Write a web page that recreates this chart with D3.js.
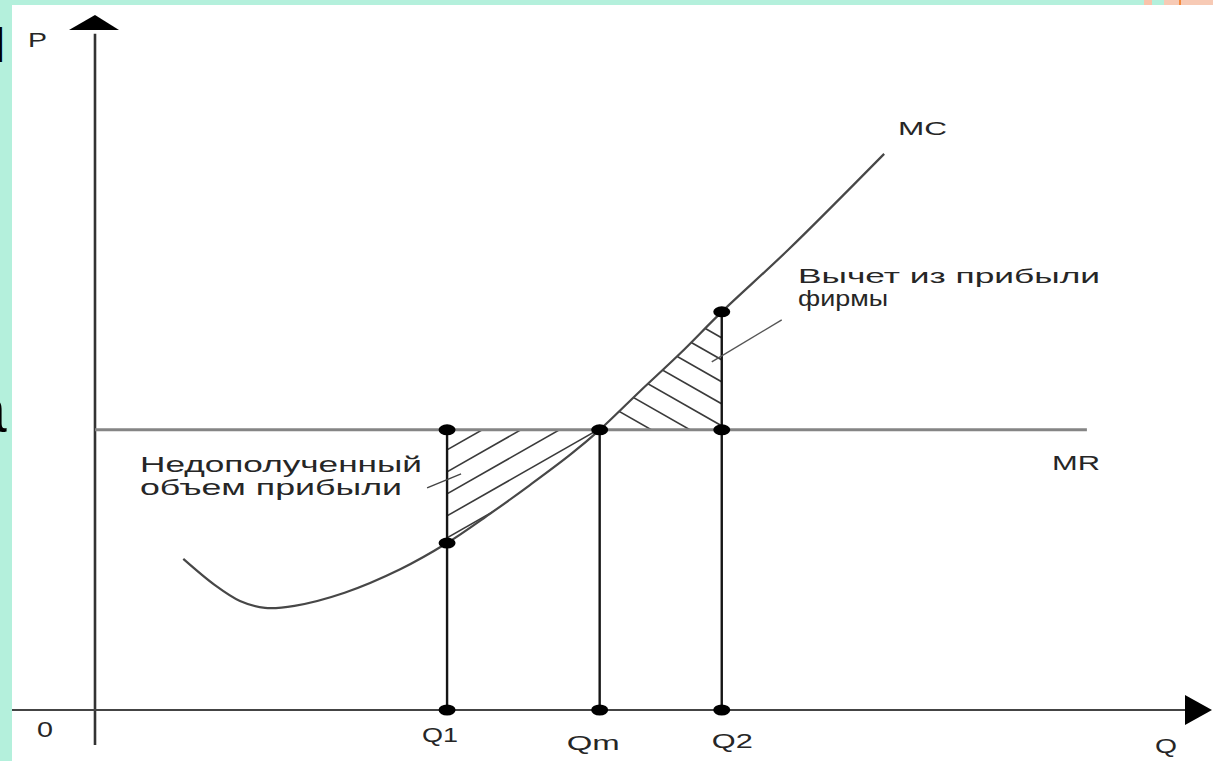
<!DOCTYPE html>
<html><head><meta charset="utf-8">
<script src="https://cdn.jsdelivr.net/npm/d3@7/dist/d3.min.js"></script>
<style>html,body{margin:0;padding:0;background:#b4f0dc;overflow:hidden}svg{display:block}</style>
</head><body><svg id="c" width="1213" height="761"></svg>
<script>
// ---- data ----
const mcQ = [8.1, 11.0, 13.3, 15.6, 18.3, 22.9, 28.0, 32.3, 36.2, 39.9, 43.6, 46.3, 50.0, 53.7, 57.5, 63.6, 72.4];
const mcP = [21.9, 18.1, 15.8, 14.8, 15.1, 17.0, 20.4, 24.2, 28.4, 32.6, 37.0, 40.6, 46.2, 51.7, 57.7, 66.7, 80.6];
const mrLevel = 40.6;
const mrEndQ = 91.0;
const markLabels = ["Q1", "Qm", "Q2"];
const markQ = [32.3, 46.3, 57.5];
const axisLabels = ["P", "0", "Q"];
const curveLabels = ["MC", "MR"];
const noteLoss = ["Недополученный", "объем прибыли"];
const noteDeduct = ["Вычет из прибыли", "фирмы"];

// ---- drawing ----
const svg = d3.select("#c");
const W = 1213, H = 761;
const x = d3.scaleLinear().domain([0, 100]).range([95, 1185]);
const y = d3.scaleLinear().domain([0, 100]).range([710, 20]);
const font = "'Liberation Sans', Arial, sans-serif";
const ink = "#262626";

// page frame (slide background)
svg.append("rect").attr("x", 0).attr("y", 0).attr("width", W).attr("height", H).attr("fill", "#b4f0dc");
svg.append("rect").attr("x", 12).attr("y", 5).attr("width", W - 12).attr("height", H - 5).attr("fill", "#ffffff");
svg.append("rect").attr("x", 1144).attr("y", 0).attr("width", 8).attr("height", 5).attr("fill", "#f9c3ab");
svg.append("rect").attr("x", 1164).attr("y", 0).attr("width", 49).attr("height", 5).attr("fill", "#f7cab5");
svg.append("rect").attr("x", 1179).attr("y", 0).attr("width", 2).attr("height", 5).attr("fill", "#f58a3c");
// clipped slide text fragments at left edge
const frag = svg.append("g").attr("font-family", font).attr("fill", "#000");
frag.append("text").attr("x", -5.5).attr("y", 62).attr("font-size", 48).text("l");
frag.append("text").attr("x", -29).attr("y", 432).attr("font-size", 64).text("a");

const mc = mcQ.map((q, i) => ({q, p: mcP[i]}));
const mcAt = q => mc.reduce((a, b) => Math.abs(b.q - q) < Math.abs(a.q - q) ? b : a).p;
const curve = d3.curveCatmullRom.alpha(0.5);
const line = d3.line().x(d => x(d.q)).y(d => y(d.p)).curve(curve);

const q1 = markQ[0], qm = markQ[1], q2 = markQ[2];

// clip regions for hatching
const defs = svg.append("defs");
const area = d3.area().x(d => x(d.q)).y0(y(mrLevel)).y1(d => y(d.p)).curve(curve);
defs.append("clipPath").attr("id", "clipL").append("path")
  .attr("d", area(mc.filter(d => d.q >= q1 && d.q <= qm)));
defs.append("clipPath").attr("id", "clipR").append("path")
  .attr("d", area(mc.filter(d => d.q >= qm && d.q <= q2)));

const hatchStroke = "#3a3a3a";
const slope = 0.57;
// left hatch: rising to the right
const gL = svg.append("g").attr("clip-path", "url(#clipL)");
const xa = x(q1) - 10, xb = x(qm) + 10;
d3.range(y(mrLevel) + 20, y(mrLevel) + 260, 22).forEach(c => {
  gL.append("line").attr("x1", xa).attr("y1", c + slope * (x(q1) - xa))
    .attr("x2", xb).attr("y2", c - slope * (xb - x(q1)))
    .attr("stroke", hatchStroke).attr("stroke-width", 1.6);
});
// right hatch: falling to the right
const gR = svg.append("g").attr("clip-path", "url(#clipR)");
const xc = x(qm) - 10, xd = x(q2) + 10;
d3.range(y(mcAt(q2)) + 26, y(mrLevel) + 60, 22).forEach(c => {
  gR.append("line").attr("x1", xc).attr("y1", c - slope * (x(q2) - xc))
    .attr("x2", xd).attr("y2", c + slope * (xd - x(q2)))
    .attr("stroke", hatchStroke).attr("stroke-width", 1.6);
});

// axes
svg.append("line").attr("x1", x(0)).attr("x2", x(0)).attr("y1", 745).attr("y2", y(98))
  .attr("stroke", "#333").attr("stroke-width", 2.6);
svg.append("line").attr("x1", 12).attr("x2", x(100)).attr("y1", y(0)).attr("y2", y(0))
  .attr("stroke", "#444").attr("stroke-width", 2.2);
svg.append("path").attr("d", `M${x(0)},${y(100) - 5} L${x(0) - 26},${y(100) + 10} L${x(0) + 24},${y(100) + 10} Z`).attr("fill", "#000");
svg.append("path").attr("d", `M${x(100) + 27},${y(0)} L${x(100)},${y(0) - 15} L${x(100)},${y(0) + 15} Z`).attr("fill", "#000");

// MR line
svg.append("line").attr("x1", x(0)).attr("x2", x(mrEndQ)).attr("y1", y(mrLevel)).attr("y2", y(mrLevel))
  .attr("stroke", "#858585").attr("stroke-width", 3);

// MC curve
svg.append("path").attr("d", line(mc)).attr("fill", "none").attr("stroke", "#474747").attr("stroke-width", 2.2);

// drop lines
markQ.forEach(q => {
  const top = Math.max(mrLevel, q === q1 ? mrLevel : mcAt(q));
  svg.append("line").attr("x1", x(q)).attr("x2", x(q)).attr("y1", y(top)).attr("y2", y(0))
    .attr("stroke", "#151515").attr("stroke-width", 2.4);
});

// dots
const dots = [
  [q1, mrLevel], [q1, mcAt(q1)], [q1, 0],
  [qm, mrLevel], [qm, 0],
  [q2, mcAt(q2)], [q2, mrLevel], [q2, 0]
];
svg.selectAll("ellipse.dot").data(dots).join("ellipse").attr("class", "dot")
  .attr("cx", d => x(d[0])).attr("cy", d => y(d[1])).attr("rx", 8.5).attr("ry", 5.5).attr("fill", "#000");

// leader lines
svg.append("line").attr("x1", x(q1) - 20).attr("y1", y(mrLevel) + 58).attr("x2", x(q1) + 14).attr("y2", y(mrLevel) + 44)
  .attr("stroke", "#444").attr("stroke-width", 1.4);
svg.append("line").attr("x1", x(q2) + 60).attr("y1", y(mcAt(q2)) + 8).attr("x2", x(q2) - 10).attr("y2", y(mcAt(q2)) + 50)
  .attr("stroke", "#555").attr("stroke-width", 1.4);

// labels
const T = (s, px, py, len, size, anchor) => svg.append("text").attr("x", px).attr("y", py)
  .attr("font-family", font).attr("font-size", size).attr("fill", ink)
  .attr("text-anchor", anchor || "start")
  .attr("textLength", len).attr("lengthAdjust", "spacingAndGlyphs").text(s);

T(axisLabels[0], 28, 47, 19, 20);
T(axisLabels[1], 37, 737, 16, 22);
T(axisLabels[2], 1155, 753, 22, 20);
const qOff = [-25, -33, -10], qY = [742, 750, 748], qLen = [36, 53, 41];
markLabels.forEach((s, i) => T(s, x(markQ[i]) + qOff[i], qY[i], qLen[i], 20));
T(curveLabels[0], 898, 135, 49, 18);
T(curveLabels[1], 1052, 470, 48, 20);
T(noteLoss[0], 140, 472, 282, 22);
T(noteLoss[1], 140, 495, 262, 22);
T(noteDeduct[0], 798, 283, 302, 21);
T(noteDeduct[1], 798, 306, 90, 22);
</script></body></html>
